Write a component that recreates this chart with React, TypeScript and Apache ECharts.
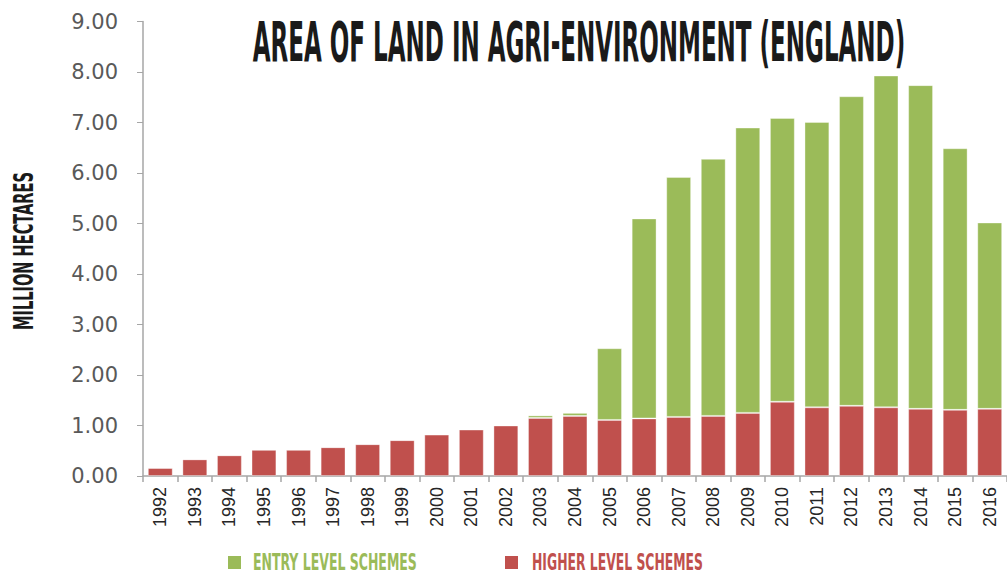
import React, { useEffect, useRef } from "react";
import * as echarts from "echarts";

const years = [
  "1992", "1993", "1994", "1995", "1996", "1997", "1998", "1999", "2000",
  "2001", "2002", "2003", "2004", "2005", "2006", "2007", "2008", "2009",
  "2010", "2011", "2012", "2013", "2014", "2015", "2016",
];
const higherLevel = [
  0.16, 0.33, 0.41, 0.52, 0.52, 0.57, 0.63, 0.71, 0.82, 0.92, 1.0, 1.15, 1.19,
  1.11, 1.14, 1.17, 1.19, 1.25, 1.47, 1.36, 1.39, 1.36, 1.33, 1.31, 1.33,
];
const entryLevel = [
  0, 0, 0, 0, 0, 0, 0, 0, 0, 0, 0, 0.05, 0.06,
  1.42, 3.96, 4.75, 5.09, 5.65, 5.62, 5.65, 6.13, 6.57, 6.41, 5.18, 3.69,
];
const titleText = "AREA OF LAND IN AGRI-ENVIRONMENT (ENGLAND)";
const yAxisTitle = "MILLION HECTARES";
const entryName = "ENTRY LEVEL SCHEMES";
const higherName = "HIGHER LEVEL SCHEMES";

const GREEN = "#9BBB59";
const RED = "#C0504D";
const NARROW = "'Liberation Sans Narrow', 'DejaVu Sans Condensed', sans-serif";

function measure(text: string, size: number): number {
  const c = document.createElement("canvas").getContext("2d");
  if (!c) return text.length * size * 0.55;
  c.font = `bold ${size}px ${NARROW}`;
  return c.measureText(text).width;
}

export default function App() {
  const ref = useRef<HTMLDivElement>(null);
  useEffect(() => {
    if (!ref.current) return;
    const chart = echarts.init(ref.current, undefined, { renderer: "svg" });

    const titleSize = 55;
    const titleScale = 652 / measure(titleText, titleSize);
    const yNameSize = 27;
    const yNameScale = 158 / measure(yAxisTitle, yNameSize);
    const legSize = 23;
    const entryScale = 164 / measure(entryName, legSize);
    const higherScale = 171 / measure(higherName, legSize);

    chart.setOption({
      animation: false,
      backgroundColor: "#ffffff",
      grid: { left: 143, right: 0, top: 21.5, bottom: 99, containLabel: false },
      xAxis: {
        type: "category",
        data: years,
        axisLine: { lineStyle: { color: "#A6A6A6", width: 1.5 } },
        axisTick: { show: true, length: 6, alignWithLabel: false, lineStyle: { color: "#A6A6A6", width: 1.5 } },
        axisLabel: {
          rotate: 90,
          margin: 11,
          fontSize: 18,
          fontFamily: "'Liberation Sans Narrow', sans-serif",
          color: "#262626",
          interval: 0,
        },
      },
      yAxis: {
        type: "value",
        min: 0,
        max: 9,
        interval: 1,
        splitLine: { show: false },
        axisLine: { show: true, lineStyle: { color: "#A6A6A6", width: 1.5 } },
        axisTick: { show: true, length: 6, lineStyle: { color: "#A6A6A6", width: 1 } },
        axisLabel: {
          margin: 25,
          fontSize: 21,
          fontFamily: "'DejaVu Sans', sans-serif",
          color: "#595959",
          formatter: (v: number) => v.toFixed(2),
        },
      },
      series: [
        {
          name: higherName,
          type: "bar",
          stack: "total",
          data: higherLevel,
          barCategoryGap: "28%",
          itemStyle: { color: RED, borderColor: "rgba(255,255,255,0.35)", borderWidth: 1 },
        },
        {
          name: entryName,
          type: "bar",
          stack: "total",
          data: entryLevel,
          barCategoryGap: "28%",
          itemStyle: { color: GREEN, borderColor: "rgba(255,255,255,0.35)", borderWidth: 1 },
        },
      ],
      graphic: [
        {
          type: "text",
          x: 579,
          y: 42,
          scaleX: titleScale,
          style: {
            text: titleText,
            fontSize: titleSize,
            fontWeight: "bold",
            fontFamily: NARROW,
            fill: "#1a1a1a",
            align: "center",
            verticalAlign: "middle",
          },
        },
        {
          type: "text",
          x: 23,
          y: 251,
          rotation: Math.PI / 2,
          scaleX: yNameScale,
          style: {
            text: yAxisTitle,
            fontSize: yNameSize,
            fontWeight: "bold",
            fontFamily: NARROW,
            fill: "#1a1a1a",
            align: "center",
            verticalAlign: "middle",
          },
        },
        {
          type: "rect",
          shape: { x: 228, y: 556, width: 13, height: 13 },
          style: { fill: GREEN },
        },
        {
          type: "text",
          x: 253,
          y: 562,
          scaleX: entryScale,
          style: {
            text: entryName,
            fontSize: legSize,
            fontWeight: "bold",
            fontFamily: NARROW,
            fill: GREEN,
            align: "left",
            verticalAlign: "middle",
          },
        },
        {
          type: "rect",
          shape: { x: 505, y: 556, width: 13, height: 13 },
          style: { fill: RED },
        },
        {
          type: "text",
          x: 532,
          y: 562,
          scaleX: higherScale,
          style: {
            text: higherName,
            fontSize: legSize,
            fontWeight: "bold",
            fontFamily: NARROW,
            fill: RED,
            align: "left",
            verticalAlign: "middle",
          },
        },
      ],
    });
    return () => chart.dispose();
  }, []);
  return (
    <div
      ref={ref}
      style={{ position: "fixed", left: 0, top: 0, width: 1007, height: 575, background: "#fff" }}
    />
  );
}
